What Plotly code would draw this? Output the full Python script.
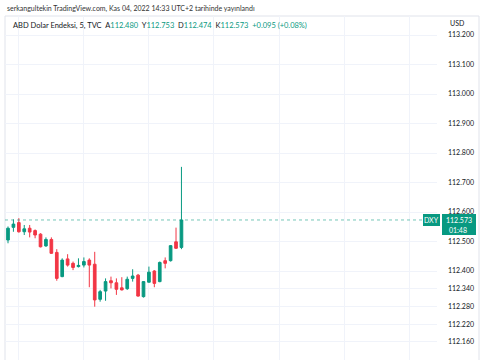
import pandas as pd
import plotly.graph_objects as go

# ---- data ----
start_time = "2022-11-04 11:50"
opens = [112.505, 112.548, 112.564, 112.533, 112.545, 112.537, 112.525, 112.485, 112.507, 112.463,
         112.381, 112.441, 112.426, 112.415, 112.420, 112.437, 112.423, 112.304, 112.332, 112.367,
         112.360, 112.343, 112.340, 112.375, 112.386, 112.313, 112.362, 112.400, 112.364, 112.435,
         112.435, 112.499, 112.480]
highs = [112.551, 112.575, 112.579, 112.556, 112.556, 112.541, 112.528, 112.514, 112.514, 112.474,
         112.443, 112.457, 112.432, 112.443, 112.446, 112.443, 112.465, 112.336, 112.375, 112.381,
         112.375, 112.379, 112.381, 112.406, 112.390, 112.366, 112.415, 112.403, 112.432, 112.446,
         112.488, 112.547, 112.753]
lows = [112.494, 112.533, 112.530, 112.522, 112.514, 112.511, 112.480, 112.482, 112.458, 112.367,
        112.379, 112.415, 112.403, 112.412, 112.412, 112.345, 112.279, 112.296, 112.299, 112.341,
        112.319, 112.334, 112.336, 112.364, 112.313, 112.310, 112.361, 112.345, 112.362, 112.409,
        112.432, 112.475, 112.474]
closes = [112.545, 112.559, 112.533, 112.543, 112.532, 112.522, 112.482, 112.507, 112.460, 112.375,
          112.437, 112.420, 112.412, 112.419, 112.432, 112.420, 112.302, 112.330, 112.364, 112.360,
          112.338, 112.336, 112.372, 112.383, 112.315, 112.364, 112.396, 112.358, 112.429, 112.426,
          112.486, 112.477, 112.573]
tick_values = [113.2, 113.1, 113.0, 112.9, 112.8, 112.7, 112.6, 112.5, 112.4,
               112.34, 112.28, 112.22, 112.16, 112.1]
tick_labels = [f"{v:.3f}" for v in tick_values]
last_price = closes[-1]
header_text = "serkangultekin TradingView.com, Kas 04, 2022 14:33 UTC+2 tarihinde yayınlandı"
symbol = "DXY"
countdown = "01:48"
change_text = "+0.095 (+0.08%)"

GREEN = "#089981"
RED = "#F23645"
TXT = "#131722"
GRID = "#f0f3fa"
FONT = "Lato"

times = pd.date_range(start_time, periods=len(opens), freq="5min")
step = pd.Timedelta(minutes=5)

W, H = 485, 360
L, R, T, B = 5, 48, 16, 0
pw, ph = W - L - R, H - T - B


def px(x):
    return (x - L) / pw


def py(y):
    return (H - B - y) / ph


fig = go.Figure()
fig.add_trace(go.Candlestick(
    x=times, open=opens, high=highs, low=lows, close=closes,
    increasing=dict(line=dict(color=GREEN, width=1), fillcolor=GREEN),
    decreasing=dict(line=dict(color=RED, width=1), fillcolor=RED),
    whiskerwidth=0, showlegend=False, hoverinfo="skip",
))

x0 = times[0] - step * 0.553
x1 = times[0] + step * 79.15
fig.update_xaxes(range=[x0, x1], showticklabels=False, showgrid=True, gridcolor=GRID,
                 gridwidth=1, dtick=3600000, tick0="2022-11-04 00:00",
                 rangeslider=dict(visible=False), zeroline=False, showline=False, ticks="")
fig.update_yaxes(range=[113.2 - (H - 35) / 295, 113.2 + (35 - T) / 295], side="right",
                 tickvals=tick_values, ticktext=tick_labels, showgrid=True, gridcolor=GRID,
                 gridwidth=1, zeroline=False, showline=False, ticks="",
                 tickfont=dict(family=FONT, size=7, color=TXT), ticklabelstandoff=10)

shapes = []
shapes.append(dict(type="rect", xref="paper", yref="paper", x0=px(5), x1=px(479), y0=py(362), y1=py(16),
                   line=dict(color="#e0e3eb", width=1), layer="below"))
shapes.append(dict(type="line", xref="paper", yref="y", x0=0, x1=px(423), y0=last_price, y1=last_price,
                   line=dict(color=GREEN, width=1, dash="dot"), opacity=0.55))
shapes.append(dict(type="rect", xref="paper", yref="paper", x0=px(423), x1=px(440), y0=py(226), y1=py(214),
                   fillcolor=GREEN, line=dict(width=0)))
shapes.append(dict(type="rect", xref="paper", yref="paper", x0=px(442), x1=px(476), y0=py(235), y1=py(214),
                   fillcolor=GREEN, line=dict(width=0)))
fig.update_layout(shapes=shapes)

ann = []
ann.append(dict(text=header_text, xref="paper", yref="paper", x=px(5), y=py(9), xanchor="left", yanchor="middle",
                showarrow=False, font=dict(family=FONT, size=7, color="#333")))
g = lambda s: f"<span style='color:{GREEN}'>{s}</span>"
legend = ("ABD Dolar Endeksi, 5, TVC  A" + g(f"{opens[-1]:.3f}") + "  Y" + g(f"{highs[-1]:.3f}") +
          "  D" + g(f"{lows[-1]:.3f}") + "  K" + g(f"{closes[-1]:.3f}") + "  " + g(change_text))
legend = legend.replace("  ", "&nbsp;&nbsp;")
ann.append(dict(text=legend, xref="paper", yref="paper", x=px(11), y=py(25), xanchor="left", yanchor="middle",
                showarrow=False, font=dict(family=FONT, size=7.5, color=TXT)))
ann.append(dict(text="USD", xref="paper", yref="paper", x=px(448), y=py(23), xanchor="left", yanchor="middle",
                showarrow=False, font=dict(family=FONT, size=7, color=TXT)))
ann.append(dict(text=symbol, xref="paper", yref="paper", x=px(431.5), y=py(220), xanchor="center", yanchor="middle",
                showarrow=False, font=dict(family=FONT, size=7, color="white")))
ann.append(dict(text=f"{last_price:.3f}", xref="paper", yref="paper", x=px(459), y=py(220), xanchor="center",
                yanchor="middle", showarrow=False, font=dict(family=FONT, size=7, color="white")))
ann.append(dict(text=countdown, xref="paper", yref="paper", x=px(447), y=py(229.5), xanchor="left",
                yanchor="middle", showarrow=False, font=dict(family=FONT, size=7, color="white")))
fig.update_layout(annotations=ann)

fig.update_layout(width=W, height=H, margin=dict(l=L, r=R, t=T, b=B, pad=0),
                  paper_bgcolor="white", plot_bgcolor="white", showlegend=False,
                  font=dict(family=FONT, size=7, color=TXT))

fig.write_html("out.html", config=dict(displayModeBar=False),
               post_script="document.body.style.margin='0';document.body.style.overflow='hidden';")
